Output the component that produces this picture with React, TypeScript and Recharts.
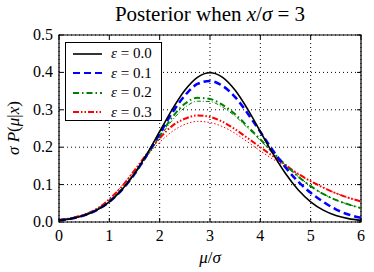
import React from "react";
import { LineChart, Line, XAxis, YAxis, CartesianGrid, ReferenceArea, Legend } from "recharts";

const mu = [0, 0.25, 0.5, 0.75, 1, 1.25, 1.5, 1.75, 2, 2.25, 2.5, 2.75, 3, 3.25, 3.5, 3.75, 4, 4.25, 4.5, 4.75, 5, 5.25, 5.5, 5.75, 6];
const eps00 = [0.0044, 0.0091, 0.0175, 0.0317, 0.054, 0.0863, 0.1295, 0.1826, 0.242, 0.3011, 0.3521, 0.3867, 0.3989, 0.3867, 0.3521, 0.3011, 0.242, 0.1826, 0.1295, 0.0863, 0.054, 0.0317, 0.0175, 0.0091, 0.0044];
const eps01 = [0.0045, 0.0092, 0.0177, 0.032, 0.054, 0.086, 0.128, 0.18, 0.236, 0.292, 0.338, 0.369, 0.377, 0.364, 0.334, 0.29, 0.241, 0.191, 0.146, 0.108, 0.078, 0.054, 0.034, 0.02, 0.011];
const eps02 = [0.0047, 0.0097, 0.0185, 0.033, 0.056, 0.088, 0.129, 0.178, 0.23, 0.28, 0.316, 0.332, 0.329, 0.313, 0.288, 0.255, 0.221, 0.186, 0.153, 0.122, 0.096, 0.075, 0.059, 0.047, 0.037];
const eps02b = [0.0047, 0.0097, 0.0185, 0.033, 0.056, 0.088, 0.129, 0.177, 0.226, 0.272, 0.306, 0.323, 0.322, 0.307, 0.283, 0.251, 0.218, 0.184, 0.152, 0.122, 0.096, 0.075, 0.059, 0.047, 0.037];
const eps03 = [0.005, 0.0105, 0.02, 0.035, 0.061, 0.095, 0.138, 0.183, 0.224, 0.257, 0.276, 0.285, 0.281, 0.268, 0.248, 0.224, 0.2, 0.176, 0.152, 0.129, 0.109, 0.092, 0.077, 0.065, 0.055];
const eps03b = [0.005, 0.0105, 0.02, 0.036, 0.062, 0.097, 0.138, 0.178, 0.213, 0.242, 0.261, 0.269, 0.266, 0.255, 0.237, 0.214, 0.19, 0.168, 0.148, 0.128, 0.109, 0.092, 0.077, 0.065, 0.055];
const xTicks = [0, 1, 2, 3, 4, 5, 6];
const yTicks = [0, 0.1, 0.2, 0.3, 0.4, 0.5];
const legendLabels = ["0.0", "0.1", "0.2", "0.3"];

const data = mu.map((m, i) => ({
  mu: m,
  e0: eps00[i],
  e1: eps01[i],
  e2: eps02[i],
  e2b: eps02b[i],
  e3: eps03[i],
  e3b: eps03b[i],
}));

const FONT = "'Liberation Serif', 'DejaVu Serif', serif";
const PLOT_TOP = 35;
const PLOT_BOTTOM = 222;
const PLOT_LEFT = 59;
const PLOT_RIGHT = 361;

const styles = [
  { color: "#000000", dash: undefined as string | undefined },
  { color: "#0000ff", dash: "7 4" },
  { color: "#008000", dash: "6 3 1.5 3" },
  { color: "#ff0000", dash: "6 2 1.5 2 1.5 2" },
];

const XTick = (props: any) => {
  const { x, y, payload } = props;
  return (
    <g>
      <line x1={x} x2={x} y1={PLOT_BOTTOM} y2={PLOT_BOTTOM - 4} stroke="#000" />
      <line x1={x} x2={x} y1={PLOT_TOP} y2={PLOT_TOP + 4} stroke="#000" />
      <text x={x} y={y} dy={11} textAnchor="middle" fontFamily={FONT} fontSize={16} fill="#000">
        {payload.value}
      </text>
    </g>
  );
};

const YTick = (props: any) => {
  const { x, y, payload } = props;
  return (
    <g>
      <line x1={PLOT_LEFT} x2={PLOT_LEFT + 4} y1={y} y2={y} stroke="#000" />
      <line x1={PLOT_RIGHT} x2={PLOT_RIGHT - 4} y1={y} y2={y} stroke="#000" />
      <text x={x} y={y} dy={5} textAnchor="end" fontFamily={FONT} fontSize={16} fill="#000">
        {Number(payload.value).toFixed(1)}
      </text>
    </g>
  );
};

const LegendBox = () => (
  <div
    style={{
      border: "1px solid #000",
      background: "#fff",
      width: 97,
      height: 79,
      boxSizing: "border-box",
      paddingTop: 1,
    }}
  >
    {legendLabels.map((lab, i) => (
      <div key={lab} style={{ display: "flex", alignItems: "center", height: 19.5 }}>
        <svg width={42} height={10} style={{ display: "block" }}>
          <line
            x1={7}
            x2={36}
            y1={5}
            y2={5}
            stroke={styles[i].color}
            strokeWidth={i === 0 ? 1.6 : 2}
            strokeDasharray={styles[i].dash}
          />
        </svg>
        <span style={{ fontFamily: FONT, fontSize: 15, marginLeft: 3, whiteSpace: "nowrap" }}>
          <i>ε</i> = {lab}
        </span>
      </div>
    ))}
  </div>
);

export default function App() {
  return (
    <div style={{ position: "absolute", left: 0, top: 0, width: 374, height: 272, background: "#fff" }}>
      <div
        style={{
          position: "absolute",
          left: 0,
          top: 2,
          width: 374,
          paddingLeft: 46,
          boxSizing: "border-box",
          textAlign: "center",
          fontFamily: FONT,
          fontSize: 21,
          color: "#000",
        }}
      >
        Posterior when <i>x</i>/<i>σ</i> = 3
      </div>
      <LineChart
        width={374}
        height={272}
        data={data}
        margin={{ top: PLOT_TOP, right: 374 - PLOT_RIGHT, bottom: 0, left: 0 }}
        style={{ position: "absolute", left: 0, top: 0 }}
      >
        <CartesianGrid stroke="#000" strokeDasharray="1 3" strokeWidth={1} />
        <XAxis
          dataKey="mu"
          type="number"
          domain={[0, 6]}
          ticks={xTicks}
          tick={<XTick />}
          tickLine={false}
          axisLine={false}
          tickSize={0}
          tickMargin={8}
          height={272 - PLOT_BOTTOM}
          allowDataOverflow
          label={() => (
            <text x={210} y={263} textAnchor="middle" fontFamily={FONT} fontSize={17} fill="#000">
              <tspan fontStyle="italic">μ</tspan>
              <tspan>/</tspan>
              <tspan fontStyle="italic">σ</tspan>
            </text>
          )}
        />
        <YAxis
          type="number"
          domain={[0, 0.5]}
          ticks={yTicks}
          tick={<YTick />}
          tickLine={false}
          axisLine={false}
          tickSize={0}
          tickMargin={6}
          width={PLOT_LEFT}
          allowDataOverflow
          label={() => (
            <text
              x={0}
              y={0}
              transform={`translate(19, 128) rotate(-90)`}
              textAnchor="middle"
              fontFamily={FONT}
              fontSize={17}
              fill="#000"
            >
              <tspan fontStyle="italic">σ</tspan>
              <tspan> </tspan>
              <tspan fontStyle="italic">P</tspan>
              <tspan>(</tspan>
              <tspan fontStyle="italic">μ</tspan>
              <tspan>|</tspan>
              <tspan fontStyle="italic">x</tspan>
              <tspan>)</tspan>
            </text>
          )}
        />
        <Line type="monotone" dataKey="e3b" stroke="#ff0000" strokeWidth={1} strokeDasharray="1.5 2" dot={false} isAnimationActive={false} legendType="none" />
        <Line type="monotone" dataKey="e2b" stroke="#008000" strokeWidth={1} strokeDasharray="4 2 1 2" dot={false} isAnimationActive={false} legendType="none" />
        <Line type="monotone" dataKey="e3" stroke="#ff0000" strokeWidth={2} strokeDasharray={styles[3].dash} dot={false} isAnimationActive={false} />
        <Line type="monotone" dataKey="e2" stroke="#008000" strokeWidth={2} strokeDasharray={styles[2].dash} dot={false} isAnimationActive={false} />
        <Line type="monotone" dataKey="e1" stroke="#0000ff" strokeWidth={2.5} strokeDasharray={styles[1].dash} dot={false} isAnimationActive={false} />
        <Line type="monotone" dataKey="e0" stroke="#000000" strokeWidth={1.6} dot={false} isAnimationActive={false} />
        <ReferenceArea x1={0} x2={6} y1={0} y2={0.5} fill="none" stroke="#000" strokeWidth={1.2} ifOverflow="visible" />
        <Legend
          layout="vertical"
          align="center"
          verticalAlign="middle"
          content={() => <LegendBox />}
          wrapperStyle={{ position: "absolute", left: 65, top: 42, width: 97, height: 79 }}
        />
      </LineChart>
    </div>
  );
}
